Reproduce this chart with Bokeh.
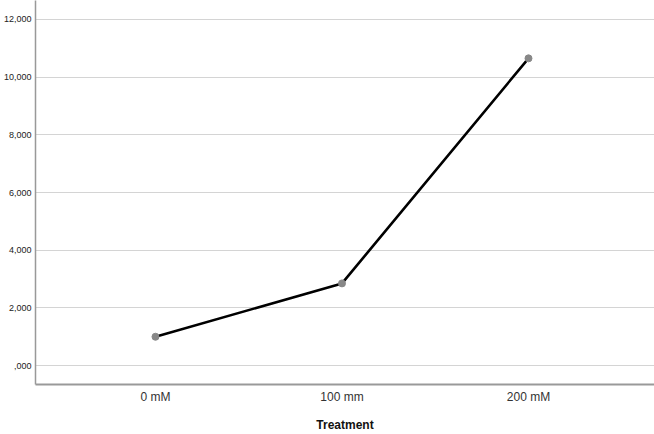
from bokeh.plotting import figure
from bokeh.models import Range1d, FixedTicker
from bokeh.embed import file_html
from bokeh.resources import INLINE

categories = ["0 mM", "100 mm", "200 mM"]
values = [1000, 2850, 10650]
y_ticks = [0, 2000, 4000, 6000, 8000, 10000, 12000]
y_tick_labels = [",000", "2,000", "4,000", "6,000", "8,000", "10,000", "12,000"]
x_title = "Treatment"

x_pos = list(range(len(categories)))

p = figure(width=654, height=434, output_backend="svg", toolbar_location=None,
           x_range=Range1d(-0.6434, 2.6756), y_range=Range1d(-655, 12655),
           min_border_left=32, min_border_right=0, min_border_top=0, min_border_bottom=48)

p.outline_line_color = None
p.background_fill_color = "white"
p.border_fill_color = "white"

p.line(x_pos, values, line_color="black", line_width=2.6)
p.scatter(x_pos, values, size=7, fill_color="#888888", line_color="#888888")

# y axis
p.yaxis.ticker = FixedTicker(ticks=y_ticks)
p.yaxis.major_label_overrides = {t: l for t, l in zip(y_ticks, y_tick_labels)}
p.yaxis.major_tick_line_color = None
p.yaxis.major_tick_out = 0
p.yaxis.major_tick_in = 0
p.yaxis.minor_tick_line_color = None
p.yaxis.axis_line_color = "#999999"
p.yaxis.axis_line_width = 1.5
p.yaxis.major_label_text_font = "Liberation Sans"
p.yaxis.major_label_text_font_size = "9px"
p.yaxis.major_label_text_color = "#222222"
p.yaxis.major_label_standoff = 4

# x axis
p.xaxis.ticker = FixedTicker(ticks=x_pos)
p.xaxis.major_label_overrides = {i: c for i, c in zip(x_pos, categories)}
p.xaxis.major_tick_line_color = None
p.xaxis.major_tick_out = 0
p.xaxis.major_tick_in = 0
p.xaxis.minor_tick_line_color = None
p.xaxis.axis_line_color = "#999999"
p.xaxis.axis_line_width = 2
p.xaxis.major_label_text_font = "Liberation Sans"
p.xaxis.major_label_text_font_size = "12px"
p.xaxis.major_label_text_color = "#333333"
p.xaxis.major_label_text_line_height = 1.0
p.xaxis.major_label_standoff = 5
p.xaxis.axis_label = x_title
p.xaxis.axis_label_text_font = "Liberation Sans"
p.xaxis.axis_label_text_font_size = "12px"
p.xaxis.axis_label_text_font_style = "bold"
p.xaxis.axis_label_text_color = "#111111"
p.xaxis.axis_label_text_line_height = 1.0
p.xaxis.axis_label_standoff = 11

p.xgrid.grid_line_color = None
p.ygrid.grid_line_color = "#d4d4d4"
p.ygrid.grid_line_width = 1.2

open("out.html", "w").write(file_html(p, INLINE))
